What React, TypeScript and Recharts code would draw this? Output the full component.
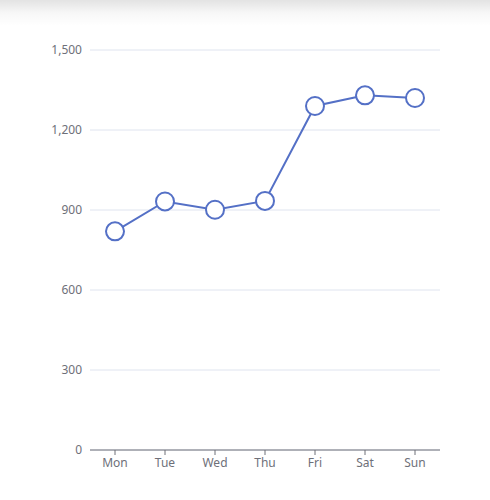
import React from "react";
import { LineChart, Line, XAxis, YAxis, CartesianGrid } from "recharts";

const days = ["Mon", "Tue", "Wed", "Thu", "Fri", "Sat", "Sun"];
const values = [820, 932, 901, 934, 1290, 1330, 1320];
const yTicks = [0, 300, 600, 900, 1200, 1500];

const data = days.map((d, i) => ({ day: d, value: values[i] }));

const fmt = (v: number) => v.toLocaleString("en-US");

export default function App() {
  return (
    <div style={{ position: "absolute", left: 0, top: 0, width: 490, height: 500, background: "#fff", overflow: "hidden" }}>
      <div
        style={{
          position: "absolute",
          left: 0,
          top: 0,
          width: 490,
          height: 26,
          background: "linear-gradient(to bottom, rgba(0,0,0,0.11), rgba(0,0,0,0.03) 50%, rgba(0,0,0,0))",
        }}
      />
      <LineChart
        width={490}
        height={500}
        data={data}
        margin={{ top: 50, right: 50, bottom: 20, left: 0 }}
        style={{ fontFamily: "'Noto Sans', sans-serif", position: "absolute", left: 0, top: 0 }}
      >
        <CartesianGrid vertical={false} stroke="#DFE4EF" strokeWidth={1} />
        <XAxis
          dataKey="day"
          height={30}
          padding={{ left: 25, right: 25 }}
          axisLine={{ stroke: "#6E7079", strokeWidth: 1 }}
          tickLine={{ stroke: "#6E7079" }}
          tickSize={5}
          tickMargin={3}
          tick={{ fill: "#6E7079", fontSize: 12 }}
          interval={0}
        />
        <YAxis
          width={90}
          domain={[0, 1500]}
          ticks={yTicks}
          tickFormatter={fmt}
          axisLine={false}
          tickLine={false}
          tickSize={0}
          tickMargin={8}
          tick={{ fill: "#6E7079", fontSize: 12 }}
        />
        <Line
          type="linear"
          dataKey="value"
          stroke="#5470C6"
          strokeWidth={2}
          dot={{ r: 9, fill: "#fff", stroke: "#5470C6", strokeWidth: 2 }}
          activeDot={false}
          isAnimationActive={false}
        />
      </LineChart>
    </div>
  );
}
